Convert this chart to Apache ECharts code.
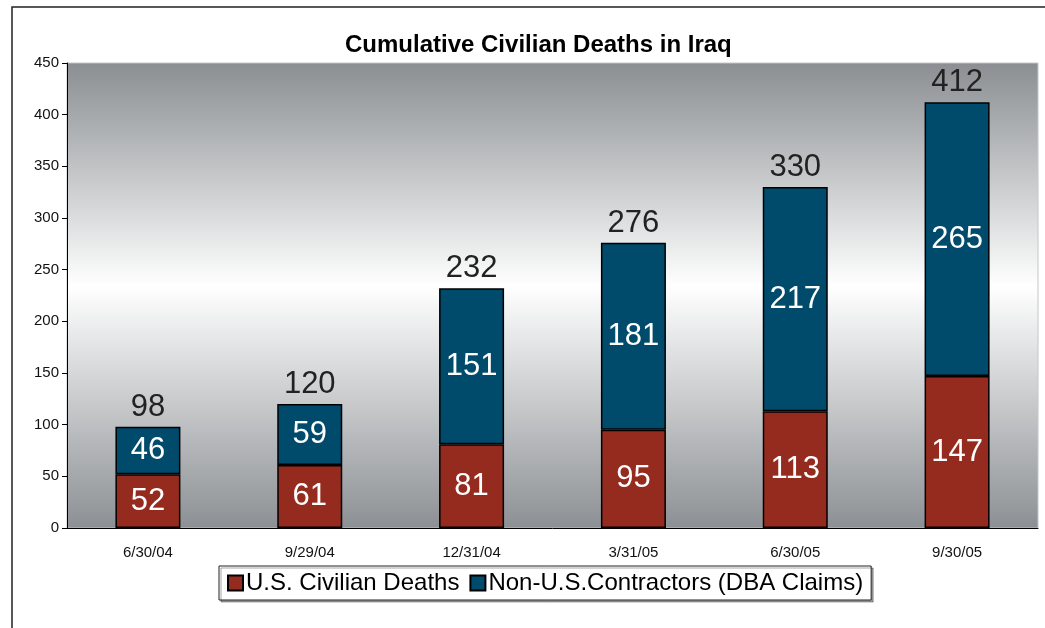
<!DOCTYPE html>
<html>
<head>
<meta charset="utf-8">
<script src="https://cdn.jsdelivr.net/npm/echarts@6/dist/echarts.min.js"></script>
<style>
  html, body { margin: 0; padding: 0; background: #fff; }
  #charts { width: 1045px; height: 628px; }
</style>
</head>
<body>
<div id="charts"></div>
<script>
// 数据
var categories = ['6/30/04', '9/29/04', '12/31/04', '3/31/05', '6/30/05', '9/30/05'];
var usDeaths = [52, 61, 81, 95, 113, 147];
var contractors = [46, 59, 151, 181, 217, 265];
var totals = [98, 120, 232, 276, 330, 412];

var font = 'Liberation Sans, Arial, sans-serif';
var chartDom = document.getElementById('charts');
var myChart = echarts.init(chartDom);
var option;

option = {
    backgroundColor: '#fff',
    animation: false,
    title: {
        text: 'Cumulative Civilian Deaths in Iraq',
        left: 340,
        top: 28,
        textStyle: { fontFamily: font, fontSize: 24, fontWeight: 'bold', color: '#000' }
    },
    graphic: [{   // 外框
        type: 'rect',
        shape: { x: 12, y: 7, width: 1200, height: 800 },
        style: { fill: 'none', stroke: '#222', lineWidth: 1.5 },
        silent: true
    }],
    legend: {
        data: ['U.S. Civilian Deaths', 'Non-U.S.Contractors (DBA Claims)'],
        left: 219,
        top: 566,
        itemWidth: 15,
        itemHeight: 15,
        itemGap: 10,
        padding: [5, 8, 5, 8],
        borderColor: '#222',
        borderWidth: 1,
        shadowColor: 'rgba(0,0,0,0.35)',
        shadowOffsetX: 2,
        shadowOffsetY: 2,
        backgroundColor: '#fff',
        icon: 'rect',
        textStyle: { fontFamily: font, fontSize: 24, color: '#000', padding: [0, 0, 0, -2] }
    },
    grid: {
        left: 67,
        right: 7,
        top: 63,
        bottom: 100,
        show: true,
        borderColor: '#c4c6c8',
        borderWidth: 1,
        backgroundColor: new echarts.graphic.LinearGradient(0, 0, 0, 1, [
            { offset: 0, color: '#8a8e92' },
            { offset: 0.48, color: '#ffffff' },
            { offset: 1, color: '#8c9094' }
        ])
    },
    xAxis: {
        type: 'category',
        data: categories,
        axisLine: { lineStyle: { color: '#000', width: 1 } },
        axisTick: { length: 5, lineStyle: { color: '#000' } },
        axisLabel: { fontFamily: font, fontSize: 15, color: '#111', margin: 17 },
        splitLine: { show: false }
    },
    yAxis: {
        type: 'value',
        min: 0,
        max: 450,
        interval: 50,
        axisLine: { show: true, lineStyle: { color: '#000', width: 1 } },
        axisTick: { show: true, length: 5, lineStyle: { color: '#000' } },
        axisLabel: { fontFamily: font, fontSize: 15, color: '#111', margin: 8 },
        splitLine: { show: false }
    },
    series: [
        {
            name: 'U.S. Civilian Deaths',
            type: 'bar',
            stack: 'all',
            barWidth: 65,
            data: usDeaths,
            itemStyle: { color: '#952b1f', borderColor: '#000', borderWidth: 1.5 },
            label: { show: true, position: 'inside', color: '#fff', fontFamily: font, fontSize: 31 }
        },
        {
            name: 'Non-U.S.Contractors (DBA Claims)',
            type: 'bar',
            stack: 'all',
            barWidth: 65,
            data: contractors,
            itemStyle: { color: '#004b6c', borderColor: '#000', borderWidth: 1.5 },
            label: { show: true, position: 'inside', color: '#fff', fontFamily: font, fontSize: 31 }
        },
        {
            name: 'Total',
            type: 'bar',
            stack: 'all',
            barWidth: 65,
            data: categories.map(function () { return 0; }),
            itemStyle: { color: 'transparent', borderWidth: 0 },
            label: {
                show: true,
                position: 'top',
                distance: 4,
                color: '#222',
                fontFamily: font,
                fontSize: 31,
                formatter: function (p) { return totals[p.dataIndex]; }
            },
            silent: true
        }
    ]
};
option && myChart.setOption(option);
</script>
</body>
</html>
